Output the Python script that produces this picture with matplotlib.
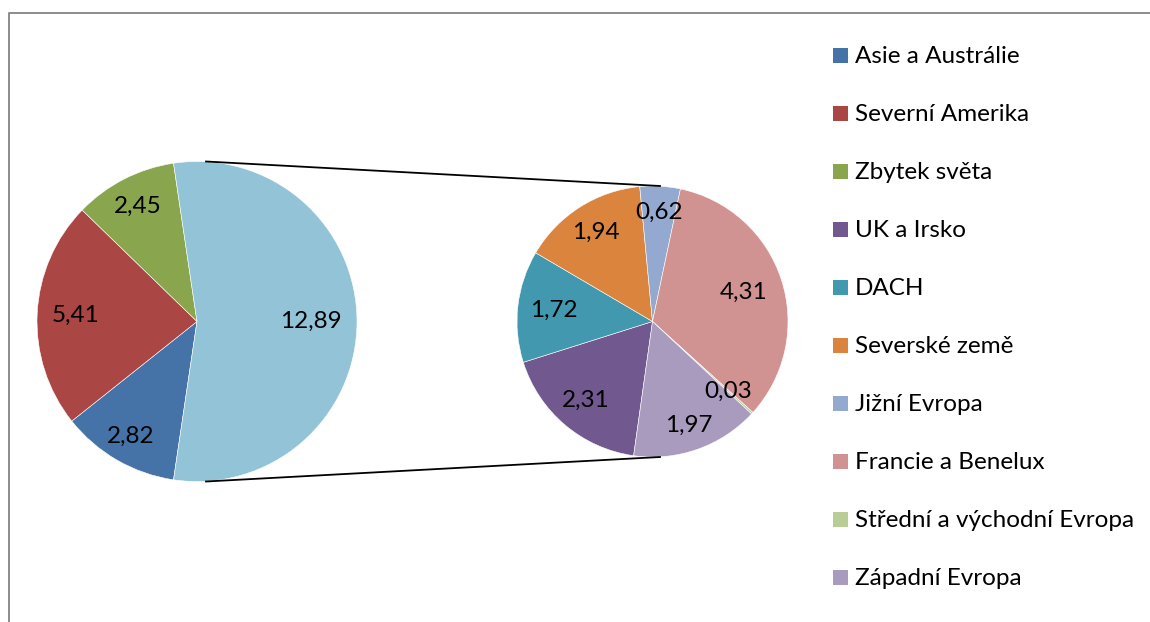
import numpy as np
import matplotlib.pyplot as plt
from matplotlib.patches import Rectangle

# main pie
main_labels = ['Asie a Austrálie', 'Severní Amerika', 'Zbytek světa', 'Evropa']
main_values = [2.82, 5.41, 2.45, 12.89]
main_colors = ['#4572A7', '#AA4643', '#89A54E', '#93C3D6']

# secondary pie (the split-out Europe slice)
sub_labels = ['UK a Irsko', 'DACH', 'Severské země', 'Jižní Evropa',
              'Francie a Benelux', 'Střední a východní Evropa', 'Západní Evropa']
sub_values = [2.31, 1.72, 1.94, 0.62, 4.31, 0.03, 1.97]
sub_colors = ['#71588F', '#4198AF', '#DB843D', '#93A9CF',
              '#D19392', '#B9CD96', '#A99BBD']

W, H = 1150, 622
FONT = 'Lato'
FS = 17.5

plt.rcParams['font.family'] = [FONT, 'DejaVu Sans']

fig = plt.figure(figsize=(W / 100, H / 100), dpi=100)
ax = fig.add_axes([0, 0, 1, 1])
ax.axis('off')

c1, r1 = (197, H - 321.5), 160
c2, r2 = (652.5, H - 321.5), 135.5

# rotate so the Europe slice (drawn last, clockwise) is centred on the right
eu_span = 360 * main_values[-1] / sum(main_values)
start1 = -eu_span / 2
wedges1, _ = ax.pie(main_values, colors=main_colors, center=c1, radius=r1,
                    startangle=start1, counterclock=False,
                    wedgeprops=dict(linewidth=0.4, edgecolor='white'))
wedges2, _ = ax.pie(sub_values, colors=sub_colors, center=c2, radius=r2,
                    startangle=262, counterclock=False,
                    wedgeprops=dict(linewidth=0.4, edgecolor='white'))
ax.set_xlim(0, W)
ax.set_ylim(0, H)
ax.set_aspect('auto')


def fmt(v):
    return f'{v:.2f}'.replace('.', ',')


def put_labels(wedges, values, center, radius, dists):
    for w, v, d in zip(wedges, values, dists):
        mid = np.deg2rad((w.theta1 + w.theta2) / 2)
        x = center[0] + d * radius * np.cos(mid)
        y = center[1] + d * radius * np.sin(mid)
        ax.text(x, y, fmt(v), ha='center', va='center', fontsize=FS, color='black')


put_labels(wedges1, main_values, c1, r1, [0.83, 0.76, 0.81, 0.71])
put_labels(wedges2, sub_values, c2, r2, [0.76, 0.73, 0.78, 0.81, 0.71, 0.76, 0.81])

# connector lines between the pies
ax.plot([c1[0] + 9, c2[0] + 7.5], [c1[1] + r1, c2[1] + r2], color='black', lw=1.3)
ax.plot([c1[0] + 9, c2[0] + 7.5], [c1[1] - r1, c2[1] - r2], color='black', lw=1.3)

# legend
leg_items = list(zip(main_labels[:-1], main_colors[:-1])) + list(zip(sub_labels, sub_colors))
for i, (lab, col) in enumerate(leg_items):
    yb = H - (63 + 58 * i)
    ax.add_patch(Rectangle((833, yb), 15, 15, facecolor=col, edgecolor='none'))
    ax.text(855, yb, lab, ha='left', va='baseline', fontsize=FS, color='black')

# chart frame (left and top edges visible)
ax.plot([8.5, 8.5, W], [0, H - 13, H - 13], color='#8c8c8c', lw=1.4)

fig.savefig('out.png', dpi=100)
